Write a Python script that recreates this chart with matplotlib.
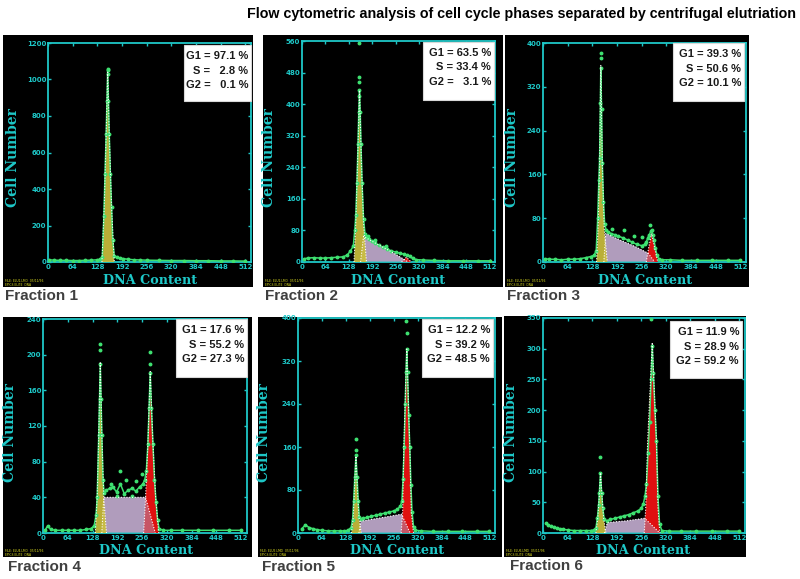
import matplotlib
matplotlib.use('Agg')
import matplotlib.pyplot as plt
from matplotlib.patches import Rectangle

W, H = 800, 579

# ---------------- data ----------------
fractions = ["Fraction 1", "Fraction 2", "Fraction 3", "Fraction 4", "Fraction 5", "Fraction 6"]
g1_pct = [97.1, 63.5, 39.3, 17.6, 12.2, 11.9]
s_pct = [2.8, 33.4, 50.6, 55.2, 39.2, 28.9]
g2_pct = [0.1, 3.1, 10.1, 27.3, 48.5, 59.2]
y_max = [1200, 560, 400, 240, 400, 350]
y_step = [200, 80, 80, 40, 80, 50]
x_ticks = [0, 64, 128, 192, 256, 320, 384, 448, 512]

# Fraction 1
p1_data_x = [3, 16, 32, 48, 64, 80, 96, 112, 128, 136, 141, 145, 148, 151, 153, 155, 157, 159, 162, 165, 168, 172, 178, 186, 196, 208, 224, 240, 256, 288, 320, 352, 384, 416, 448, 480, 512]
p1_data_y = [12, 10, 9, 9, 8, 8, 9, 10, 12, 16, 30, 250, 480, 700, 880, 1060, 880, 700, 480, 300, 120, 35, 25, 22, 18, 15, 12, 11, 10, 9, 8, 8, 7, 7, 6, 6, 5]
p1_out_x = [155, 156]
p1_out_y = [1050, 1030]
p1_g1_x = [140, 146, 151, 155, 159, 165, 172]
p1_g1_y = [0, 300, 700, 1040, 700, 300, 0]
p1_s_x = []
p1_s_y = []
p1_g2_x = []
p1_g2_y = []

# Fraction 2
p2_data_x = [5, 16, 32, 48, 64, 80, 96, 112, 124, 132, 140, 144, 147, 150, 153, 155, 157, 159, 161, 164, 168, 172, 176, 184, 192, 200, 210, 220, 232, 244, 256, 268, 278, 286, 294, 302, 312, 330, 360, 400, 440, 480, 512]
p2_data_y = [8, 10, 11, 10, 10, 11, 12, 13, 18, 28, 40, 80, 120, 200, 300, 380, 435, 380, 300, 200, 110, 72, 64, 58, 52, 47, 42, 38, 33, 28, 25, 22, 20, 18, 14, 9, 6, 5, 4, 3, 3, 3, 3]
p2_out_x = [156, 155, 156, 156, 180, 200, 230]
p2_out_y = [555, 470, 455, 420, 66, 55, 40]
p2_g1_x = [142, 147, 152, 157, 162, 168, 176]
p2_g1_y = [0, 100, 260, 435, 260, 100, 0]
p2_s_x = [160, 168, 200, 240, 280, 290]
p2_s_y = [0, 65, 48, 28, 6, 0]
p2_g2_x = [272, 285, 298]
p2_g2_y = [0, 12, 0]

# Fraction 3
p3_data_x = [5, 16, 32, 48, 64, 80, 96, 112, 124, 132, 138, 142, 145, 147, 149, 150, 152, 154, 157, 160, 164, 168, 176, 186, 196, 208, 220, 232, 244, 256, 264, 268, 272, 276, 280, 282, 285, 288, 292, 296, 300, 310, 330, 360, 400, 440, 480, 512]
p3_data_y = [6, 5, 5, 4, 5, 5, 6, 8, 10, 12, 20, 80, 150, 190, 290, 355, 280, 180, 110, 70, 58, 55, 52, 50, 47, 44, 40, 36, 32, 30, 32, 36, 44, 50, 56, 58, 50, 40, 25, 12, 6, 4, 4, 3, 3, 3, 3, 3]
p3_out_x = [150, 150, 180, 210, 235, 258, 278]
p3_out_y = [382, 372, 60, 58, 48, 45, 68]
p3_g1_x = [139, 143, 147, 150, 154, 159, 167]
p3_g1_y = [0, 60, 180, 360, 180, 60, 0]
p3_s_x = [158, 163, 200, 240, 273, 290]
p3_s_y = [0, 52, 40, 28, 16, 0]
p3_g2_x = [268, 274, 282, 290, 298]
p3_g2_y = [0, 25, 52, 25, 0]

# Fraction 4
p4_data_x = [5, 12, 20, 32, 48, 64, 80, 96, 112, 124, 132, 137, 140, 144, 146, 148, 150, 152, 155, 158, 164, 172, 180, 190, 200, 210, 220, 230, 240, 250, 258, 263, 267, 271, 274, 277, 280, 284, 288, 292, 296, 300, 310, 330, 360, 400, 440, 480, 512]
p4_data_y = [3, 8, 4, 3, 3, 3, 3, 3, 4, 5, 8, 20, 40, 110, 150, 190, 150, 110, 60, 45, 48, 50, 52, 46, 55, 44, 48, 50, 47, 52, 55, 60, 70, 100, 140, 180, 140, 100, 60, 35, 15, 5, 3, 3, 3, 3, 3, 3, 3]
p4_out_x = [147, 148, 277, 277, 200, 175, 215, 240, 255, 230, 190]
p4_out_y = [212, 205, 203, 190, 70, 55, 60, 58, 66, 42, 42]
p4_g1_x = [135, 140, 144, 148, 152, 157, 164]
p4_g1_y = [0, 40, 110, 192, 110, 40, 0]
p4_s_x = [152, 157, 265, 290]
p4_s_y = [0, 40, 40, 0]
p4_g2_x = [260, 265, 271, 277, 284, 291, 299]
p4_g2_y = [0, 40, 100, 181, 100, 40, 0]

# Fraction 5
p5_data_x = [10, 20, 30, 40, 52, 64, 80, 96, 112, 124, 134, 142, 146, 149, 152, 155, 158, 161, 164, 168, 174, 184, 196, 208, 220, 232, 244, 256, 266, 274, 278, 281, 284, 287, 289, 291, 293, 296, 299, 302, 305, 309, 314, 330, 360, 400, 440, 480, 512]
p5_data_y = [8, 15, 10, 8, 6, 5, 4, 4, 4, 4, 5, 10, 25, 60, 105, 145, 105, 60, 30, 26, 27, 29, 31, 33, 35, 37, 39, 41, 44, 50, 60, 100, 160, 240, 300, 342, 300, 220, 160, 90, 40, 12, 5, 4, 3, 3, 3, 3, 3]
p5_out_x = [155, 155, 290, 291]
p5_out_y = [174, 155, 395, 372]
p5_g1_x = [143, 148, 151, 155, 159, 163, 169]
p5_g1_y = [0, 30, 80, 143, 80, 30, 0]
p5_s_x = [163, 168, 220, 277, 300]
p5_s_y = [0, 22, 28, 35, 0]
p5_g2_x = [276, 280, 283, 291, 299, 303, 309]
p5_g2_y = [0, 40, 160, 342, 160, 40, 0]

# Fraction 6
p6_data_x = [8, 14, 20, 28, 36, 44, 52, 64, 80, 96, 112, 124, 132, 138, 142, 145, 147, 150, 153, 156, 160, 166, 176, 188, 200, 212, 224, 236, 248, 256, 262, 266, 270, 274, 278, 282, 285, 288, 292, 296, 300, 304, 310, 330, 360, 400, 440, 480, 512]
p6_data_y = [16, 13, 11, 9, 8, 7, 6, 5, 4, 4, 4, 4, 5, 8, 25, 45, 65, 98, 65, 40, 22, 20, 22, 24, 26, 28, 30, 33, 36, 40, 48, 60, 80, 130, 180, 250, 305, 260, 200, 150, 60, 15, 4, 3, 3, 3, 3, 3, 3]
p6_out_x = [149, 282]
p6_out_y = [124, 348]
p6_g1_x = [138, 143, 147, 150, 154, 158, 164]
p6_g1_y = [0, 25, 60, 98, 60, 25, 0]
p6_s_x = [160, 168, 220, 265, 305]
p6_s_y = [0, 17, 20, 24, 0]
p6_g2_x = [264, 268, 273, 285, 296, 300, 305]
p6_g2_y = [0, 40, 150, 310, 150, 40, 0]

panels = [
    (p1_data_x, p1_data_y, p1_out_x, p1_out_y, p1_g1_x, p1_g1_y, p1_s_x, p1_s_y, p1_g2_x, p1_g2_y),
    (p2_data_x, p2_data_y, p2_out_x, p2_out_y, p2_g1_x, p2_g1_y, p2_s_x, p2_s_y, p2_g2_x, p2_g2_y),
    (p3_data_x, p3_data_y, p3_out_x, p3_out_y, p3_g1_x, p3_g1_y, p3_s_x, p3_s_y, p3_g2_x, p3_g2_y),
    (p4_data_x, p4_data_y, p4_out_x, p4_out_y, p4_g1_x, p4_g1_y, p4_s_x, p4_s_y, p4_g2_x, p4_g2_y),
    (p5_data_x, p5_data_y, p5_out_x, p5_out_y, p5_g1_x, p5_g1_y, p5_s_x, p5_s_y, p5_g2_x, p5_g2_y),
    (p6_data_x, p6_data_y, p6_out_x, p6_out_y, p6_g1_x, p6_g1_y, p6_s_x, p6_s_y, p6_g2_x, p6_g2_y),
]

# ---------------- layout (pixels) ----------------
bg_boxes = [(3, 35, 253, 287), (263, 35, 503, 287), (505, 35, 749, 287),
            (3, 317, 252, 557), (258, 317, 502, 557), (504, 316, 746, 557)]
ax_boxes = [(48, 43, 251, 262), (302, 41, 495, 262), (543, 43, 746, 262),
            (43, 319, 247, 533), (298, 318, 495, 533), (543, 318, 745, 533)]
txt_boxes = [(184, 45, 251, 101), (423, 42, 494, 100), (673, 43, 744, 101),
             (176, 319, 247, 377), (422, 319, 493, 377), (670, 321, 742, 378)]
ylab_pos = [(13, 158), (269, 158), (512, 158), (10, 433), (264, 433), (511, 433)]
xlab_pos = [(150, 280), (398, 280), (645, 280), (146, 550), (397, 550), (643, 550)]
frac_pos = [(5, 296), (265, 296), (507, 296), (8, 567), (262, 567), (510, 566)]

CYAN = '#1ec8c8'
YELLOW = '#cbbf3c'
LAV = '#b09cbc'
RED = '#e01010'
GREEN = '#3ee070'


def fx(px):
    return px / W


def fy(py):
    return 1 - py / H


fig = plt.figure(figsize=(8, 5.79), dpi=100)
fig.patch.set_facecolor('white')

fig.text(0.5 * (248 + 795) / W, fy(14), "Flow cytometric analysis of cell cycle phases separated by centrifugal elutriation",
         ha='center', va='center', fontsize=10.3, fontweight='bold', family='Liberation Sans', color='black')

for i in range(6):
    x0, y0, x1, y1 = bg_boxes[i]
    fig.add_artist(Rectangle((fx(x0), fy(y1)), (x1 - x0) / W, (y1 - y0) / H, transform=fig.transFigure,
                             facecolor='black', edgecolor='none', zorder=-5))
    a0, b0, a1, b1 = ax_boxes[i]
    ax = fig.add_axes([fx(a0), fy(b1), (a1 - a0) / W, (b1 - b0) / H])
    ax.set_facecolor('black')
    (dx, dy, ox, oy, g1x, g1y, sx, sy, g2x, g2y) = panels[i]

    if sx:
        ax.fill(sx, sy, color=LAV, lw=0, zorder=2)
    if g2x:
        ax.fill(g2x, g2y, color=RED, lw=0, zorder=3)
    if sx:
        ax.fill(sx, sy, color=LAV, alpha=0.5, lw=0, zorder=4)
    ax.fill(g1x, g1y, color=YELLOW, alpha=0.92, lw=0, zorder=5)

    ax.plot(dx, dy, color=GREEN, lw=1.1, marker='o', ms=1.8, mec=GREEN, mfc=GREEN, zorder=6)
    ax.plot(ox, oy, ls='none', marker='o', ms=1.8, color=GREEN, zorder=6)

    for px, py in ((g1x, g1y), (sx, sy), (g2x, g2y)):
        if px:
            ax.plot(px, py, color='white', lw=0.8, ls=(0, (1, 1.5)), zorder=7)

    ax.set_xlim(0, 527)
    ax.set_ylim(0, y_max[i])
    yt = list(range(0, y_max[i] + 1, y_step[i]))
    ax.set_xticks(x_ticks)
    ax.set_xticklabels([str(t) for t in x_ticks], fontweight='bold', family='DejaVu Sans')
    ax.set_yticks(yt)
    ax.set_yticklabels([str(t) for t in yt], fontweight='bold', family='DejaVu Sans')
    ax.tick_params(direction='in', length=2.5, width=1, colors=CYAN, labelcolor=CYAN,
                   top=True, right=True, labelsize=5, pad=1.2)
    for sp in ax.spines.values():
        sp.set_color(CYAN)
        sp.set_linewidth(1.3)

    # text box
    t0, u0, t1, u1 = txt_boxes[i]
    fig.add_artist(Rectangle((fx(t0), fy(u1)), (t1 - t0) / W, (u1 - u0) / H, transform=fig.transFigure,
                             facecolor='white', edgecolor='#d8d8d8', lw=0.8, zorder=5))
    s_txt = f"S = {s_pct[i]:.1f} %" if s_pct[i] >= 10 else f"S =   {s_pct[i]:.1f} %"
    g2_txt = f"G2 = {g2_pct[i]:.1f} %" if g2_pct[i] >= 10 else f"G2 =   {g2_pct[i]:.1f} %"
    lines = [f"G1 = {g1_pct[i]:.1f} %", s_txt, g2_txt]
    lh = 14.5
    for k, ln in enumerate(lines):
        fig.text(fx(t1 - 3), fy(u0 + 11 + k * lh), ln, ha='right', va='center', fontsize=8.0,
                 fontweight='bold', family='Liberation Sans', color='#1a1a1a', zorder=6)

    # axis titles
    lx, ly = ylab_pos[i]
    fig.text(fx(lx), fy(ly), "Cell Number", rotation=90, ha='center', va='center', fontsize=10,
             fontweight='bold', family='DejaVu Serif', color=CYAN)
    lx, ly = xlab_pos[i]
    fig.text(fx(lx), fy(ly), "DNA Content", ha='center', va='center', fontsize=9.2,
             fontweight='bold', family='DejaVu Serif', color=CYAN)

    # tiny instrument caption
    fig.text(fx(bg_boxes[i][0] + 2), fy(bg_boxes[i][3] - 4), "FILE: ELU%d.LMD  05/11/96\nEPICS ELITE  DNA" % (i + 1),
             ha='left', va='center', fontsize=2.2, color='#e0e020', family='DejaVu Sans', linespacing=1.0)

    # fraction label
    lx, ly = frac_pos[i]
    fig.text(fx(lx), fy(ly), fractions[i], ha='left', va='center', fontsize=11,
             fontweight='bold', family='Liberation Sans', color='#404040')

fig.savefig('out.png', dpi=100, facecolor='white')
